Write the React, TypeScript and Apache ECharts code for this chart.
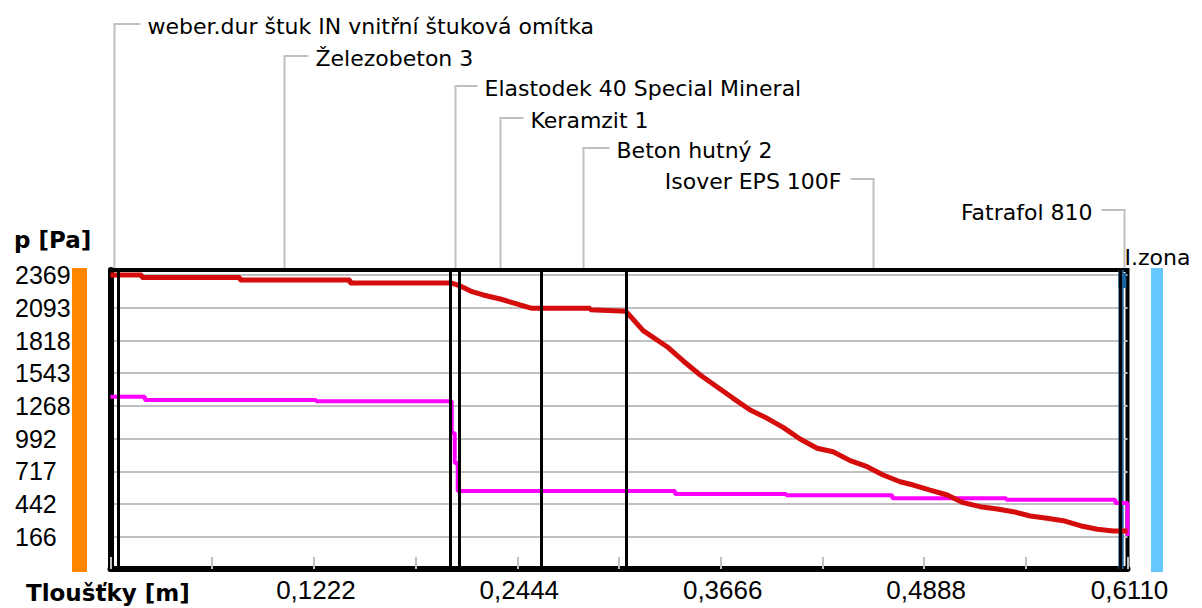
import React, { useEffect, useRef } from "react";
import * as echarts from "echarts";

// ---- data ----
const layerNames = [
  "weber.dur štuk IN vnitřní štuková omítka",
  "Železobeton 3",
  "Elastodek 40 Special Mineral",
  "Keramzit 1",
  "Beton hutný 2",
  "Isover EPS 100F",
  "Fatrafol 810",
];
const layerBounds = [0, 0.0045, 0.2044, 0.2096, 0.2585, 0.3096, 0.6068, 0.611];

const yTicks = [166, 442, 717, 992, 1268, 1543, 1818, 2093, 2369];
const yLabels = ["166", "442", "717", "992", "1268", "1543", "1818", "2093", "2369"];
const xLabelValues = [0.1222, 0.2444, 0.3666, 0.4888, 0.611];
const xLabels = ["0,1222", "0,2444", "0,3666", "0,4888", "0,6110"];

// saturated vapour pressure (red)
const psatX = [0, 0.0188, 0.0188, 0.0778, 0.0778, 0.1439, 0.1439, 0.2046, 0.2096, 0.2172, 0.2239, 0.2341, 0.2461, 0.2533, 0.2882, 0.2882, 0.3096, 0.32, 0.3344, 0.3441, 0.3543, 0.3645, 0.3741, 0.3843, 0.3945, 0.4041, 0.4143, 0.4245, 0.4341, 0.4444, 0.4546, 0.4642, 0.4744, 0.4823, 0.4924, 0.5027, 0.5123, 0.5225, 0.5327, 0.5424, 0.5526, 0.5627, 0.5724, 0.5826, 0.5928, 0.6024, 0.611];
const psatY = [2369, 2369, 2348, 2348, 2327, 2327, 2302, 2302, 2280, 2229, 2201, 2167, 2117, 2089, 2089, 2077, 2065, 1901, 1766, 1646, 1528, 1427, 1332, 1234, 1164, 1088, 990, 912, 883, 808, 757, 687, 631, 603, 561, 519, 455, 421, 402, 379, 343, 323, 303, 261, 231, 217, 217];

// partial vapour pressure (magenta)
const pX = [0, 0.0207, 0.0207, 0.1235, 0.1235, 0.205, 0.205, 0.2068, 0.2068, 0.2086, 0.2086, 0.3392, 0.3392, 0.406, 0.406, 0.4697, 0.4697, 0.5381, 0.5381, 0.6037, 0.6037, 0.611, 0.611];
const pY = [1346, 1346, 1318, 1318, 1307, 1307, 1040, 1040, 788, 788, 553, 553, 528, 528, 517, 517, 492, 492, 480, 480, 452, 452, 174];

const zoneRange = [0.6055, 0.6087];
const zoneCap = [0.6055, 0.6103, 2260, 2386];
const zoneName = "I.zona";

const yMin = -103;
const yMax = 2411;

// ---- layout ----
const leaderLayout = [
  { y: 24, side: "right", len: 26 },
  { y: 56, side: "right", len: 24 },
  { y: 86, side: "right", len: 22 },
  { y: 118, side: "right", len: 23 },
  { y: 148, side: "right", len: 26 },
  { y: 179, side: "left", len: 23 },
  { y: 210, side: "left", len: 23 },
];

const GRAY = "#C0C0C0";
const FONT = "'Liberation Sans', Arial, sans-serif";
const TOPFONT = "'DejaVu Sans', sans-serif";

function nearestLabel(values: number[], labels: string[], v: number) {
  let best = 0;
  values.forEach((x, i) => {
    if (Math.abs(x - v) < Math.abs(values[best] - v)) best = i;
  });
  return labels[best];
}

export default function App() {
  const ref = useRef<HTMLDivElement>(null);

  useEffect(() => {
    if (!ref.current) return;
    const chart = echarts.init(ref.current, null, { renderer: "svg" });

    const option: any = {
      animation: false,
      backgroundColor: "#fff",
      grid: {
        left: 110.5,
        right: 74.5,
        top: 270,
        bottom: 39,
        show: true,
        borderColor: "#000",
        borderWidth: 4,
        backgroundColor: "transparent",
      },
      xAxis: {
        type: "value",
        min: 0,
        max: 0.611,
        interval: 0.0611,
        axisLine: { show: true, onZero: false, lineStyle: { color: "#000", width: 6 } },
        axisTick: { show: true, inside: true, length: 12, lineStyle: { color: GRAY, width: 2 } },
        splitLine: { show: false },
        axisLabel: {
          customValues: xLabelValues,
          formatter: (v: number) => nearestLabel(xLabelValues, xLabels, v),
          fontFamily: FONT,
          fontSize: 26,
          color: "#000",
          margin: 8,
          padding: [0, 0, 0, 4],
        },
      },
      yAxis: {
        type: "value",
        min: yMin,
        max: yMax,
        axisLine: { show: true, onZero: false, lineStyle: { color: "#000", width: 6 } },
        axisTick: { show: false, customValues: yTicks },
        splitLine: { show: true, lineStyle: { color: GRAY, width: 2 } },
        axisLabel: {
          customValues: yTicks,
          formatter: (v: number) => nearestLabel(yTicks, yLabels, v),
          align: "left",
          margin: 95.5,
          fontFamily: FONT,
          fontSize: 25,
          color: "#000",
          padding: [6, 0, 0, 0],
        },
      },
      series: [
        {
          type: "line",
          name: "layers",
          data: [],
          z: 1,
          silent: true,
          markLine: {
            silent: true,
            precision: 6,
            symbol: ["none", "none"],
            label: { show: false },
            lineStyle: { color: "#000", width: 3, type: "solid" },
            data: layerBounds.slice(1, -1).map((b) => ({ xAxis: b })),
          },
        },
        {
          type: "line",
          name: "p",
          z: 3,
          showSymbol: false,
          symbol: "none",
          lineStyle: { color: "#FF00FF", width: 4 },
          data: pX.map((x, i) => [x, pY[i]]),
        },
        {
          type: "line",
          name: "psat",
          z: 4,
          showSymbol: false,
          symbol: "none",
          lineStyle: { color: "#D40C0C", width: 5 },
          data: psatX.map((x, i) => [x, psatY[i]]),
        },
        {
          type: "line",
          name: "zone",
          z: 5,
          data: [],
          markArea: {
            silent: true,
            precision: 6,
            itemStyle: { color: "#1A65A0", opacity: 1 },
            label: { show: false },
            data: [
              [
                { xAxis: zoneRange[0], yAxis: yMin },
                { xAxis: zoneRange[1], yAxis: yMax },
              ],
              [
                { xAxis: zoneCap[0], yAxis: zoneCap[2] },
                { xAxis: zoneCap[1], yAxis: zoneCap[3] },
              ],
            ],
          },
        },
      ],
    };
    chart.setOption(option);

    const frameTop = chart.convertToPixel({ yAxisIndex: 0 }, yMax) as number;
    const frameBottom = chart.convertToPixel({ yAxisIndex: 0 }, yMin) as number;
    const xEnd = chart.convertToPixel({ xAxisIndex: 0 }, 0.611) as number;

    const graphics: any[] = [];
    layerNames.forEach((name, i) => {
      const mid = (layerBounds[i] + layerBounds[i + 1]) / 2;
      const px = Math.round(chart.convertToPixel({ xAxisIndex: 0 }, mid) as number) + 0.5;
      const L = leaderLayout[i];
      graphics.push({
        type: "line",
        shape: { x1: px, y1: L.y, x2: px, y2: frameTop - 2 },
        style: { stroke: GRAY, lineWidth: 2 },
        z: 10,
      });
      const right = L.side === "right";
      graphics.push({
        type: "line",
        shape: right
          ? { x1: px - 1, y1: L.y, x2: px + L.len, y2: L.y }
          : { x1: px - L.len, y1: L.y, x2: px + 1, y2: L.y },
        style: { stroke: GRAY, lineWidth: 2 },
        z: 10,
      });
      graphics.push({
        type: "text",
        x: right ? px + L.len + 7 : px - L.len - 9,
        y: L.y + 2,
        style: {
          text: name,
          fill: "#000",
          font: `22px ${TOPFONT}`,
          textAlign: right ? "left" : "right",
          textVerticalAlign: "middle",
        },
        z: 10,
      });
    });

    // side bars
    graphics.push({
      type: "rect",
      shape: { x: 72, y: frameTop - 2, width: 15, height: frameBottom - frameTop + 5 },
      style: { fill: "#FF8800" },
      z: 10,
    });
    graphics.push({
      type: "rect",
      shape: { x: 1151, y: frameTop - 2, width: 12, height: frameBottom - frameTop + 5 },
      style: { fill: "#66C8FF" },
      z: 10,
    });
    // zone label
    graphics.push({
      type: "text",
      x: xEnd - 3,
      y: frameTop - 2,
      style: {
        text: zoneName,
        fill: "#000",
        font: `22px ${TOPFONT}`,
        textAlign: "left",
        textVerticalAlign: "bottom",
      },
      z: 10,
    });
    // axis names
    graphics.push({
      type: "text",
      x: 14,
      y: 240,
      style: {
        text: "p [Pa]",
        fill: "#000",
        font: "bold 23px 'DejaVu Sans', sans-serif",
        textAlign: "left",
        textVerticalAlign: "middle",
      },
      z: 10,
    });
    graphics.push({
      type: "text",
      x: 26,
      y: 593,
      style: {
        text: "Tloušťky [m]",
        fill: "#000",
        font: "bold 23px 'DejaVu Sans', sans-serif",
        textAlign: "left",
        textVerticalAlign: "middle",
      },
      z: 10,
    });

    chart.setOption({ graphic: graphics });

    return () => chart.dispose();
  }, []);

  return (
    <div
      ref={ref}
      style={{ position: "fixed", left: 0, top: 0, width: 1202, height: 608, background: "#fff" }}
    />
  );
}
